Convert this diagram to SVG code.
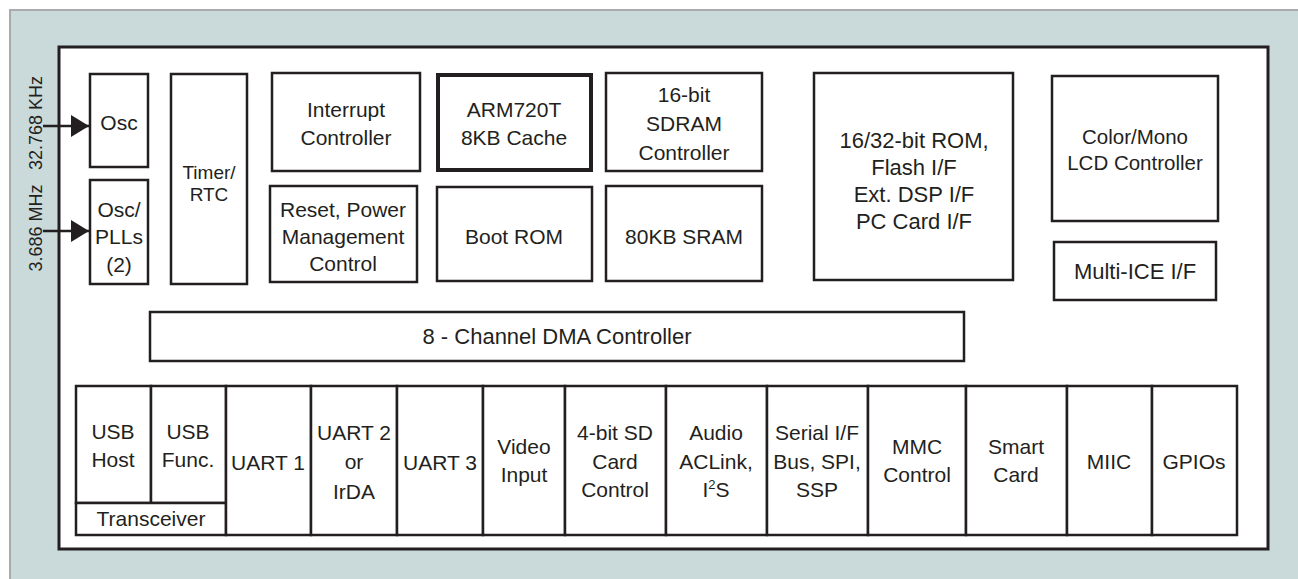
<svg xmlns="http://www.w3.org/2000/svg" width="1298" height="579" viewBox="0 0 1298 579">
<style>
.bx{fill:#fff;stroke:#231f20;stroke-width:2.5}
.t{font-family:"Liberation Sans",Arial,sans-serif;font-size:21px;fill:#231f20;text-anchor:middle}
.s{font-size:19px}
.m{font-size:20.5px}
.l{font-size:22px}
.r{font-family:"Liberation Sans",Arial,sans-serif;font-size:18px;fill:#231f20;text-anchor:middle}
</style>
<defs>
<marker id="ah" markerWidth="18" markerHeight="22" refX="18" refY="11" orient="auto" markerUnits="userSpaceOnUse">
<path d="M0,0 L18,11 L0,22 Z" fill="#231f20"/>
</marker>
</defs>
<rect x="0" y="0" width="1298" height="579" fill="#fff"/>
<rect x="10" y="10" width="1300" height="580" fill="#cad9d9" stroke="#a9abab" stroke-width="2"/>
<rect id="chip" x="59" y="47" width="1209" height="502" fill="#fff" stroke="#231f20" stroke-width="3"/>

<g id="clk-labels">
<text class="r" transform="translate(42,123) rotate(-90)">32.768 KHz</text>
<text class="r" transform="translate(42,228) rotate(-90)">3.686 MHz</text>
</g>

<g id="connectors" stroke="#231f20" stroke-width="2.5">
<line x1="43" y1="126" x2="89" y2="126" marker-end="url(#ah)"/>
<line x1="43" y1="231" x2="89" y2="231" marker-end="url(#ah)"/>
</g>

<g id="osc"><rect class="bx" x="90" y="74" width="58" height="93"/><text class="t" x="119" y="130">Osc</text></g>
<g id="oscpll"><rect class="bx" x="90" y="180" width="58" height="104"/><text class="t" x="119" y="217">Osc/</text><text class="t" x="119" y="244">PLLs</text><text class="t" x="119" y="272">(2)</text></g>
<g id="timer"><rect class="bx" x="171" y="74" width="76" height="210"/><text class="t s" x="209" y="179">Timer/</text><text class="t s" x="209" y="201">RTC</text></g>
<g id="interrupt"><rect class="bx" x="272" y="73" width="148" height="98"/><text class="t" x="346" y="117">Interrupt</text><text class="t" x="346" y="145">Controller</text></g>
<g id="arm"><rect x="438" y="75" width="153" height="95" fill="#fff" stroke="#231f20" stroke-width="4"/><text class="t" x="514" y="117">ARM720T</text><text class="t" x="514" y="145">8KB Cache</text></g>
<g id="sdram"><rect class="bx" x="606" y="73" width="156" height="98"/><text class="t" x="684" y="102">16-bit</text><text class="t" x="684" y="131">SDRAM</text><text class="t" x="684" y="160">Controller</text></g>
<g id="reset"><rect class="bx" x="270" y="186" width="147" height="96"/><text class="t" x="343" y="217">Reset, Power</text><text class="t" x="343" y="244">Management</text><text class="t" x="343" y="271">Control</text></g>
<g id="bootrom"><rect class="bx" x="437" y="187" width="155" height="94"/><text class="t" x="514" y="244">Boot ROM</text></g>
<g id="sram"><rect class="bx" x="606" y="186" width="156" height="95"/><text class="t" x="684" y="244">80KB SRAM</text></g>
<g id="romif"><rect class="bx" x="814" y="73" width="199" height="207"/><text class="t l" x="914" y="148">16/32-bit ROM,</text><text class="t l" x="914" y="175">Flash I/F</text><text class="t l" x="914" y="202">Ext. DSP I/F</text><text class="t l" x="914" y="229">PC Card I/F</text></g>
<g id="lcd"><rect class="bx" x="1052" y="76" width="166" height="145"/><text class="t m" x="1135" y="144">Color/Mono</text><text class="t m" x="1135" y="170">LCD Controller</text></g>
<g id="multiice"><rect class="bx" x="1054" y="242" width="162" height="58"/><text class="t l" x="1135" y="279">Multi-ICE I/F</text></g>
<g id="dma"><rect class="bx" x="150" y="312" width="814" height="49"/><text class="t l" x="557" y="344">8 - Channel DMA Controller</text></g>

<g id="usbhost"><rect class="bx" x="76" y="386" width="75" height="117"/><text class="t" x="113" y="439">USB</text><text class="t" x="113" y="467">Host</text></g>
<g id="usbfunc"><rect class="bx" x="151" y="386" width="75" height="117"/><text class="t" x="188" y="439">USB</text><text class="t" x="188" y="467">Func.</text></g>
<g id="transceiver"><rect class="bx" x="76" y="503" width="150" height="32"/><text class="t" x="151" y="526">Transceiver</text></g>
<g id="uart1"><rect class="bx" x="226" y="386" width="85" height="149"/><text class="t" x="268" y="470">UART 1</text></g>
<g id="uart2"><rect class="bx" x="311" y="386" width="86" height="149"/><text class="t" x="354" y="440">UART 2</text><text class="t" x="354" y="469">or</text><text class="t" x="354" y="499">IrDA</text></g>
<g id="uart3"><rect class="bx" x="397" y="386" width="86" height="149"/><text class="t" x="440" y="470">UART 3</text></g>
<g id="video"><rect class="bx" x="483" y="386" width="82" height="149"/><text class="t" x="524" y="454">Video</text><text class="t" x="524" y="482">Input</text></g>
<g id="sdcard"><rect class="bx" x="565" y="386" width="101" height="149"/><text class="t" x="615" y="440">4-bit SD</text><text class="t" x="615" y="469">Card</text><text class="t" x="615" y="497">Control</text></g>
<g id="audio"><rect class="bx" x="666" y="386" width="101" height="149"/><text class="t" x="716" y="440">Audio</text><text class="t" x="716" y="469">ACLink,</text><text class="t" x="716" y="497">I<tspan font-size="13" dy="-8">2</tspan><tspan dy="8">S</tspan></text></g>
<g id="serial"><rect class="bx" x="767" y="386" width="101" height="149"/><text class="t" x="817" y="440">Serial I/F</text><text class="t" x="817" y="469">Bus, SPI,</text><text class="t" x="817" y="497">SSP</text></g>
<g id="mmc"><rect class="bx" x="868" y="386" width="98" height="149"/><text class="t" x="917" y="454">MMC</text><text class="t" x="917" y="482">Control</text></g>
<g id="smartcard"><rect class="bx" x="966" y="386" width="101" height="149"/><text class="t" x="1016" y="454">Smart</text><text class="t" x="1016" y="482">Card</text></g>
<g id="miic"><rect class="bx" x="1067" y="386" width="85" height="149"/><text class="t" x="1109" y="469">MIIC</text></g>
<g id="gpios"><rect class="bx" x="1152" y="386" width="85" height="149"/><text class="t" x="1194" y="469">GPIOs</text></g>
</svg>
